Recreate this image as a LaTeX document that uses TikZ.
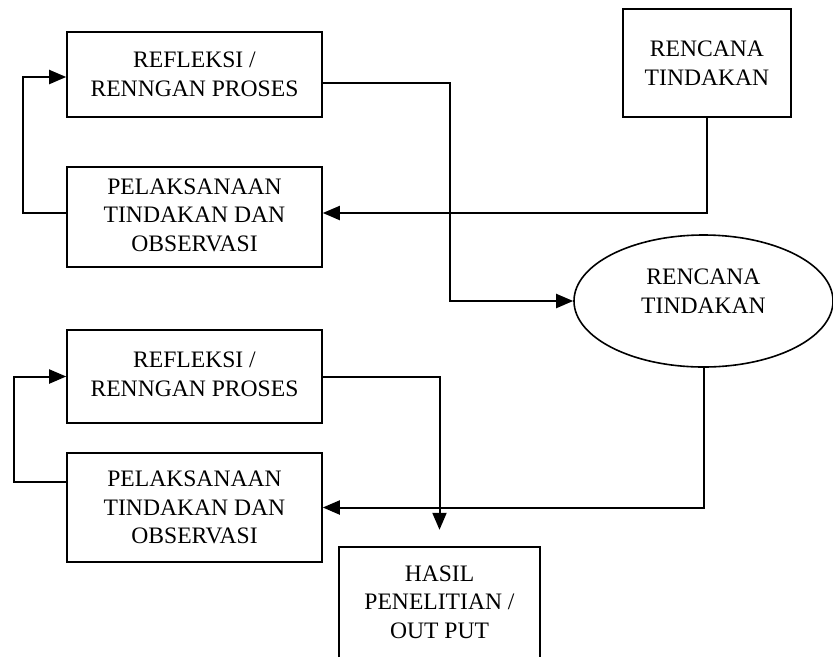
\documentclass[tikz,border=0pt]{standalone}
\usepackage{fontspec}
\setmainfont{Liberation Serif}
\usetikzlibrary{arrows.meta,shapes.geometric}
\begin{document}
\begin{tikzpicture}[x=1pt,y=-1pt,
  every node/.style={font=\fontsize{23.6}{28.5}\selectfont, align=center, inner sep=0pt},
  box/.style={draw, line width=1.6pt, rectangle},
  oval/.style={draw, line width=1.6pt, ellipse},
  conn/.style={line width=2pt},
  arr/.style={conn, -{Triangle[length=17pt,width=14pt]}}]
\useasboundingbox (0,0) rectangle (833,657);
% boxes
\node[box, minimum width=255pt, minimum height=85pt] (r1) at (194.5,74.5) {REFLEKSI /\\RENNGAN PROSES};
\node[box, minimum width=255pt, minimum height=100pt] (p1) at (194.5,217) {\raisebox{-5pt}{\begin{tabular}{@{}c@{}}PELAKSANAAN\\TINDAKAN DAN\\OBSERVASI\end{tabular}}};
\node[box, minimum width=168pt, minimum height=108pt] (rb) at (707,63) {RENCANA\\TINDAKAN};
\node[oval, minimum width=259pt, minimum height=132pt] (el) at (703.5,301) {};
\node (eltext) at (703.5,291) {RENCANA\\TINDAKAN};
\node[box, minimum width=255pt, minimum height=93pt] (r2) at (194.5,376.5) {\raisebox{5pt}{\begin{tabular}{@{}c@{}}REFLEKSI /\\RENNGAN PROSES\end{tabular}}};
\node[box, minimum width=255pt, minimum height=109pt] (p2) at (194.5,507.5) {PELAKSANAAN\\TINDAKAN DAN\\OBSERVASI};
\node[minimum width=201pt, minimum height=110pt] (hasil) at (439.5,602) {HASIL\\PENELITIAN /\\OUT PUT};
\draw[line width=1.6pt] (hasil.south west) -- (hasil.north west) -- (hasil.north east) -- (hasil.south east);
% connectors
\draw[arr] ([yshift=-8.5pt]r1.east) -- (450,83) |- (el.west);
\draw[arr] (rb.south) |- ([yshift=4pt]p1.east);
\draw[arr] ([yshift=4pt]p1.west) -- ++(-43,0) |- ([yshift=-2.5pt]r1.west);
\draw[arr] (el.south) |- (p2.east);
\draw[arr] (r2.east) -| ([yshift=17pt]hasil.north);
\draw[arr] ([yshift=25.5pt]p2.west) -- ++(-52,0) |- (r2.west);
\end{tikzpicture}
\end{document}
